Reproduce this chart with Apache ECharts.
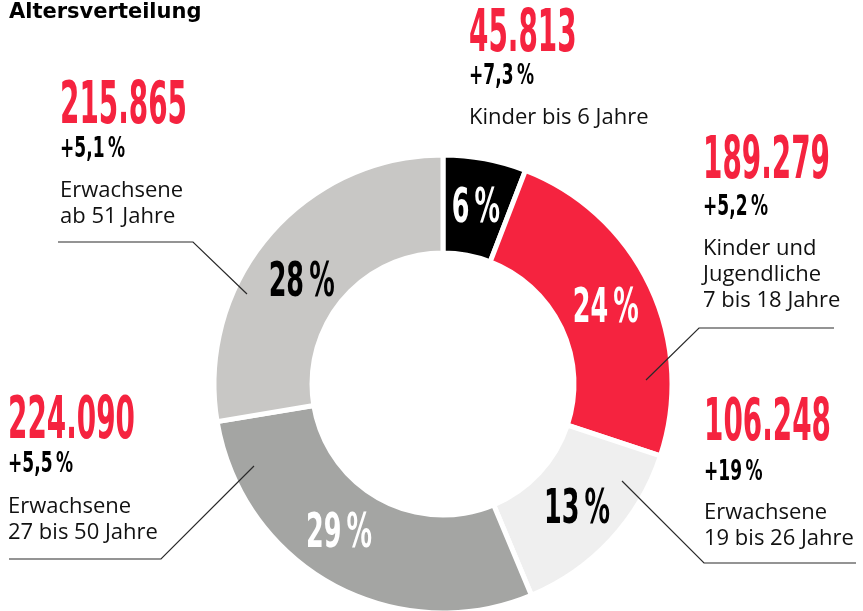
<!DOCTYPE html>
<html>
<head>
<meta charset="utf-8">
<script src="https://cdn.jsdelivr.net/npm/echarts@6/dist/echarts.min.js"></script>
<style>
  html, body { margin: 0; padding: 0; background: #fff; }
  #chart { width: 863px; height: 611px; }
</style>
</head>
<body>
<div id="chart"></div>
<script>
// Daten
const groups = [
  'Kinder bis 6 Jahre',
  'Kinder und\nJugendliche\n7 bis 18 Jahre',
  'Erwachsene\n19 bis 26 Jahre',
  'Erwachsene\n27 bis 50 Jahre',
  'Erwachsene\nab 51 Jahre'
]
const counts = [45813, 189279, 106248, 224090, 215865]
const growth = ['+7,3', '+5,2', '+19', '+5,5', '+5,1']
const shares = [6, 24, 13, 29, 28]

// Stil
const sliceColors = ['#000000', '#f5233f', '#efefef', '#a4a5a3', '#c8c7c5']
const shareColors = ['#ffffff', '#ffffff', '#000000', '#ffffff', '#000000']
const RED = '#f5233f'
const NARROW = '"Liberation Sans Narrow", "DejaVu Sans Condensed", "Liberation Sans", sans-serif'
const BODY = '"Open Sans", "Noto Sans", sans-serif'
const NUM_FONT = `bold 58px ${NARROW}`
const GROW_FONT = `bold 29px ${NARROW}`
const SHARE_FONT = `bold 48px ${NARROW}`

// Position der Textblöcke: x, Mitte Zahl, Mitte Zuwachs, Oberkante Beschreibung, Hinweislinie
const blocks = [
  { x: 469, numY: 36, growY: 76, descY: 105, line: null },
  { x: 703, numY: 163, growY: 207, descY: 236, line: [[646, 380], [699, 328], [834, 328]] },
  { x: 704, numY: 425, growY: 472, descY: 500, line: [[622, 481], [704, 563], [856, 563]] },
  { x: 8, numY: 423, growY: 464, descY: 494, line: [[254, 466], [161, 559], [9, 559]] },
  { x: 60, numY: 108, growY: 149, descY: 178, line: [[247, 294], [193, 242], [58, 242]] }
]
// kleine Verschiebung der Prozentangaben gegenüber der Segmentmitte
const shareNudge = [[0, 0], [0, 0], [2, 2], [-17, -9], [-4, 14]]

function fmtNumber(n) {
  return String(n).replace(/\B(?=(\d{3})+(?!\d))/g, '.')
}

// schmale Schrift nachbilden: Breite messen und horizontal stauchen
const measureCtx = document.createElement('canvas').getContext('2d')
function textWidth(text, font) {
  measureCtx.font = font
  return measureCtx.measureText(text).width
}
const NUM_SCALE = 127 / textWidth('189.279', NUM_FONT)
const GROW_SCALE = 65 / textWidth('+5,2\u2009%', GROW_FONT)
const SHARE_SCALE = 66 / textWidth('24\u2009%', SHARE_FONT)

const chart = echarts.init(document.getElementById('chart'), null, { renderer: 'canvas' })
chart.setOption({
  animation: false,
  backgroundColor: '#fff',
  title: {
    text: 'Altersverteilung',
    left: 4,
    top: -3,
    textStyle: { fontFamily: '"DejaVu Sans", sans-serif', fontWeight: 'bold', fontSize: 21, color: '#000' }
  },
  series: [
    {
      type: 'pie',
      center: [443, 384],
      radius: [131, 229],
      startAngle: 90,
      clockwise: true,
      silent: true,
      emphasis: { disabled: true },
      itemStyle: { borderColor: '#fff', borderWidth: 5 },
      label: { show: false },
      labelLine: { show: false },
      data: groups.map((g, i) => ({
        name: g,
        value: counts[i],
        itemStyle: { color: sliceColors[i] }
      }))
    }
  ]
})

const graphics = []
blocks.forEach((b, i) => {
  graphics.push({
    type: 'text', x: b.x, y: b.numY, scaleX: NUM_SCALE, silent: true,
    style: { text: fmtNumber(counts[i]), fill: RED, font: NUM_FONT, verticalAlign: 'middle' }
  })
  graphics.push({
    type: 'text', x: b.x, y: b.growY, scaleX: GROW_SCALE, silent: true,
    style: { text: growth[i] + '\u2009%', fill: '#000', font: GROW_FONT, verticalAlign: 'middle' }
  })
  graphics.push({
    type: 'text', x: b.x, y: b.descY, silent: true,
    style: { text: groups[i], fill: '#111', font: `22px ${BODY}`, lineHeight: 26, verticalAlign: 'top' }
  })
  if (b.line) {
    graphics.push({
      type: 'polyline', silent: true, z: 10,
      shape: { points: b.line },
      style: { stroke: '#2a2a2a', lineWidth: 1.2, fill: null }
    })
  }
})

// Prozentangaben in die Segmente setzen (Geometrie aus dem Pie-Layout)
const pieData = chart.getModel().getSeriesByIndex(0).getData()
shares.forEach((s, i) => {
  const lay = pieData.getItemLayout(i)
  const mid = (lay.startAngle + lay.endAngle) / 2
  const rm = (lay.r0 + lay.r) / 2
  graphics.push({
    type: 'text',
    x: lay.cx + rm * Math.cos(mid) + shareNudge[i][0],
    y: lay.cy + rm * Math.sin(mid) + 2 + shareNudge[i][1],
    scaleX: SHARE_SCALE,
    silent: true,
    z: 10,
    style: { text: s + '\u2009%', fill: shareColors[i], font: SHARE_FONT, align: 'center', verticalAlign: 'middle' }
  })
})
chart.setOption({ graphic: graphics })
</script>
</body>
</html>
